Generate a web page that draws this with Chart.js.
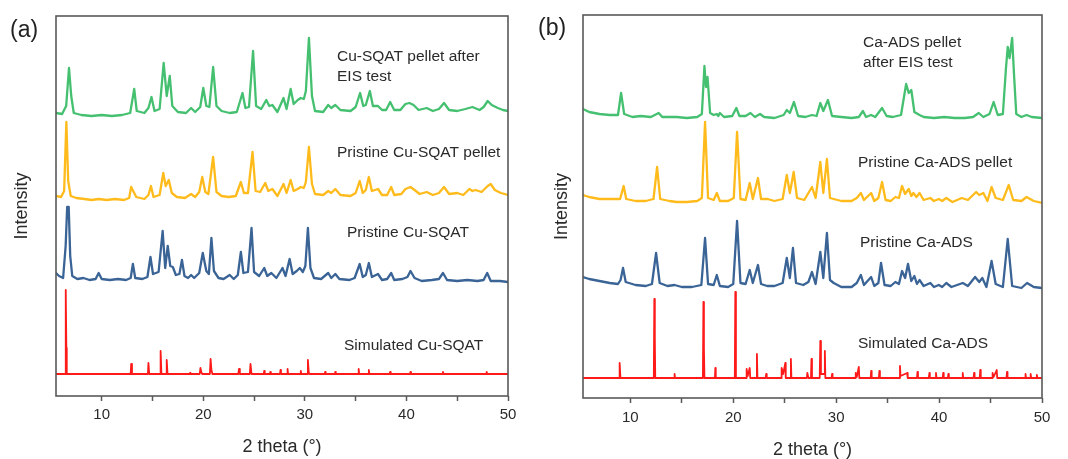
<!DOCTYPE html>
<html>
<head>
<meta charset="utf-8">
<script src="https://cdn.jsdelivr.net/npm/chart.js@4.4.1/dist/chart.umd.min.js"></script>
<style>
  body { margin: 0; background: #fff; }
  #wrap { position: relative; width: 1068px; height: 459px; }
  canvas { position: absolute; top: 0; }
  #chartA { left: 0; }
  #chartB { left: 534px; }
</style>
</head>
<body>
<div id="wrap">
  <canvas id="chartA" width="534" height="459"></canvas>
  <canvas id="chartB" width="534" height="459"></canvas>
</div>
<script>
// x ticks shared by both panels (labels only on multiples of 10)
var tickValues = [10, 15, 20, 25, 30, 35, 40, 45, 50];
var xTitle = '2 theta (\u00b0)';
var yTitle = 'Intensity';

// ---- panel (a) : Cu-SQAT, stacked traces, [2theta, offset intensity] ----
var cuSimulated = [[5.5,22],[6.4,22],[6.46,106],[6.52,48],[6.56,22],
  [12.85,22],[12.9,32],[12.98,22],[14.55,22],[14.6,33],[14.68,22],
  [15.75,22],[15.8,45],[15.88,22],[16.35,22],[16.4,36],[16.48,22],
  [18.65,22],[18.7,23],[18.75,22],[19.65,22],[19.72,28],[19.8,24],[19.9,22],
  [20.65,22],[20.72,37],[20.8,26],[20.9,22],[23.45,22],[23.52,27],[23.6,22],
  [24.58,22],[24.65,32],[24.75,22],[25.95,22],[26.0,25],[26.05,22],
  [26.55,22],[26.6,24],[26.65,22],[27.55,22],[27.6,26],[27.65,22],
  [28.25,22],[28.3,27],[28.35,22],[29.55,22],[29.6,25],[29.65,22],
  [30.22,22],[30.3,36],[30.38,24],[30.45,22],[31.95,22],[32.0,24],[32.05,22],
  [32.95,22],[33.0,24],[33.05,22],[35.25,22],[35.3,27],[35.35,22],
  [36.25,22],[36.3,26],[36.35,22],[38.35,22],[38.4,24],[38.45,22],
  [40.35,22],[40.4,24],[40.45,22],[43.55,22],[43.6,24],[43.65,22],
  [47.85,22],[47.9,24],[47.95,22],[50,22]];

var cuPristine = [[5.5,123],[5.8,120],[6.2,118],[6.45,150],[6.6,189],[6.75,189],[6.9,140],[7.1,120],
  [7.6,117],[8.2,118],[8.8,116],[9.4,117],[9.7,123],[10.0,117],[10.8,116],[11.6,117],[12.4,116],
  [12.85,118],[13.07,132],[13.3,118],[14.0,117],[14.5,119],[14.8,139],[15.05,122],[15.6,124],
  [16.0,165],[16.25,128],[16.5,150],[16.75,130],[17.0,129],[17.3,121],[17.65,122],[17.9,136],
  [18.15,120],[18.5,118],[18.8,121],[19.1,118],[19.6,123],[19.95,143],[20.3,125],[20.55,122],
  [20.8,158],[21.05,125],[21.5,118],[22.0,117],[22.6,121],[23.0,117],[23.4,121],[23.7,144],
  [23.95,123],[24.4,124],[24.75,168],[25.0,124],[25.5,120],[26.0,128],[26.3,120],[26.7,123],
  [27.2,118],[27.8,128],[28.1,120],[28.5,137],[28.8,122],[29.2,125],[29.5,128],[29.8,124],
  [30.05,130],[30.3,168],[30.55,128],[30.9,118],[31.6,117],[32.3,123],[32.6,118],[33.0,122],
  [33.4,117],[34.4,116],[34.9,118],[35.4,132],[35.7,119],[36.0,121],[36.3,133],[36.6,119],
  [37.2,122],[37.6,116],[38.1,117],[38.5,123],[38.8,116],[39.6,117],[40.1,119],[40.4,125],
  [40.8,118],[41.5,115],[42.5,116],[43.2,117],[43.6,123],[44.0,116],[45.0,115],[46.0,116],
  [47.0,115],[47.6,116],[47.95,123],[48.3,115],[49.2,115],[50,114]];

var cuPellet = [[5.5,200],[6.0,199],[6.3,205],[6.52,274],[6.7,215],[6.95,200],[7.5,198],[8.3,197],
  [9.0,196],[9.7,197],[10.5,196],[11.3,197],[12.2,196],[12.7,198],[12.9,209],[13.2,203],[13.4,199],
  [14.2,197],[14.6,201],[14.85,210],[15.1,199],[15.7,201],[16.06,223],[16.3,210],[16.6,216],
  [16.9,203],[17.4,199],[18.2,198],[18.8,202],[19.2,199],[19.6,204],[19.9,219],[20.2,204],
  [20.5,202],[20.97,239],[21.3,204],[21.8,200],[22.5,199],[23.2,200],[23.7,214],[24.0,203],
  [24.4,203],[24.85,244],[25.15,205],[25.6,204],[26.1,213],[26.4,205],[26.8,207],[27.3,200],
  [27.9,212],[28.2,203],[28.6,216],[28.9,205],[29.3,207],[29.6,209],[29.9,208],[30.1,214],
  [30.4,249],[30.7,212],[31.0,202],[31.8,201],[32.3,205],[32.6,203],[33.0,207],[33.5,201],
  [34.5,200],[35.0,203],[35.4,215],[35.7,203],[36.0,206],[36.3,219],[36.6,205],[37.2,207],
  [37.6,201],[38.1,201],[38.5,209],[38.8,201],[39.5,202],[39.9,207],[40.4,209],[40.8,206],
  [41.3,202],[42.0,204],[42.6,201],[43.2,203],[43.7,209],[44.2,202],[45.0,203],[45.6,201],
  [46.2,207],[46.5,205],[46.8,206],[47.4,204],[48.0,210],[48.3,212],[48.7,206],[49.3,203],[50,201]];

var cuAfterEIS = [[5.5,283],[6.1,282],[6.5,290],[6.78,328],[7.0,300],[7.25,283],[8.0,281],[9.0,280],
  [10.0,281],[11.0,280],[12.0,281],[12.8,283],[13.2,307],[13.45,285],[14.2,283],[14.6,288],
  [14.9,299],[15.2,285],[15.7,287],[16.1,333],[16.4,300],[16.7,320],[16.95,290],[17.5,284],
  [18.3,283],[18.8,288],[19.2,284],[19.7,289],[20.0,308],[20.3,290],[20.6,289],[20.97,329],
  [21.3,290],[21.8,285],[22.6,283],[23.3,284],[23.86,303],[24.15,288],[24.5,289],[24.9,345],
  [25.2,290],[25.7,287],[26.2,296],[26.5,290],[26.8,291],[27.3,284],[27.9,298],[28.2,287],
  [28.6,307],[28.9,292],[29.3,296],[29.6,298],[29.9,297],[30.1,305],[30.4,358],[30.7,300],
  [31.0,285],[31.8,284],[32.3,291],[32.6,288],[33.0,291],[33.5,286],[34.5,285],[35.0,289],
  [35.44,303],[35.75,290],[36.0,291],[36.4,305],[36.7,290],[37.2,290],[37.6,286],[38.0,286],
  [38.4,294],[38.8,286],[39.4,286],[39.9,292],[40.3,293],[40.7,291],[41.2,286],[42.0,288],
  [42.6,285],[43.2,287],[43.7,293],[44.2,286],[45.0,285],[45.8,287],[46.5,289],[47.2,286],
  [47.6,289],[48.0,295],[48.4,291],[49.0,288],[49.5,286],[50,285]];

var cuLabels = ['Simulated Cu-SQAT', 'Pristine Cu-SQAT', 'Pristine Cu-SQAT pellet', ['Cu-SQAT pellet after', 'EIS test']];

// ---- panel (b) : Ca-ADS ----
var caSimulated = [[5.4,20],[8.92,20],[8.96,35],[9.04,20],[12.28,20],[12.33,99],[12.38,60],[12.42,20],
  [14.27,20],[14.3,24],[14.34,20],[17.05,20],[17.1,96],[17.15,50],[17.2,20],[18.22,20],[18.26,30],
  [18.3,20],[20.15,20],[20.2,106],[20.26,20],[21.25,20],[21.3,29],[21.4,22],[21.6,30],[21.65,20],
  [22.25,20],[22.3,44],[22.35,20],[23.15,20],[23.2,24],[23.25,20],[24.65,20],[24.7,30],[24.85,24],
  [25.06,35],[25.1,20],[25.55,20],[25.6,39],[25.65,20],[27.15,20],[27.2,25],[27.3,20],[27.55,20],
  [27.6,39],[27.65,20],[28.4,20],[28.46,57],[28.52,24],[28.85,24],[28.9,47],[28.95,20],[29.55,20],
  [29.6,24],[29.65,20],[31.85,20],[31.9,25],[32.0,21],[32.2,31],[32.25,20],[33.35,20],[33.4,27],
  [33.45,20],[34.15,20],[34.2,27],[34.25,20],[36.15,20],[36.2,32],[36.25,22],[36.9,25],[36.95,20],
  [37.85,20],[37.9,26],[37.95,20],[39.0,20],[39.06,25],[39.1,20],[39.65,20],[39.7,25],[39.75,20],
  [40.35,20],[40.4,25],[40.45,20],[40.85,20],[40.9,24],[40.95,20],[42.25,20],[42.3,25],[42.35,20],
  [43.35,20],[43.4,25],[43.45,20],[43.95,20],[44.0,28],[44.05,20],[45.15,20],[45.2,25],[45.3,21],
  [45.6,28],[45.65,20],[46.55,20],[46.6,26],[46.65,20],[48.35,20],[48.4,24],[48.45,20],[48.85,20],
  [48.9,24],[48.95,20],[49.45,20],[49.5,23],[49.55,20],[50,20]];

var caPristine = [[5.4,121],[6.0,119],[7.0,117],[8.0,115],[8.8,114],[9.05,118],[9.29,130],[9.55,116],
  [10.5,113],[11.5,112],[12.1,114],[12.5,145],[12.85,115],[13.6,112],[14.3,113],[15.0,111],[16.0,111],
  [16.9,113],[17.26,160],[17.55,114],[18.1,113],[18.4,123],[18.7,112],[19.5,111],[20.0,114],
  [20.37,177],[20.7,115],[21.2,114],[21.6,128],[21.9,115],[22.4,133],[22.7,114],[23.3,112],
  [24.0,112],[24.8,115],[25.2,140],[25.5,120],[25.8,150],[26.1,115],[26.8,113],[27.3,116],
  [27.65,126],[28.0,114],[28.46,146],[28.75,120],[29.1,165],[29.4,118],[29.76,115],[30.5,111],
  [31.5,111],[32.0,115],[32.4,123],[32.7,113],[33.4,121],[33.7,112],[34.1,115],[34.36,135],
  [34.7,113],[35.3,112],[35.75,116],[36.1,114],[36.4,127],[36.7,120],[36.98,134],[37.3,117],
  [37.6,122],[37.85,114],[38.1,118],[38.5,112],[39.15,115],[39.5,111],[39.97,113],[40.3,111],
  [40.7,115],[41.2,111],[42.3,115],[42.8,112],[43.5,121],[43.9,116],[44.2,120],[44.6,111],
  [45.1,137],[45.5,114],[46.2,111],[46.67,159],[47.1,112],[48.0,110],[48.55,115],[49.2,111],[50,110]];

var caPellet = [[5.4,203],[6.0,201],[7.0,199],[8.2,199],[9.0,199],[9.35,212],[9.6,199],[10.5,197],
  [11.5,197],[12.25,199],[12.6,231],[12.9,199],[13.8,197],[14.5,196],[15.5,196],[16.5,197],
  [16.95,200],[17.26,276],[17.55,200],[18.1,198],[18.4,205],[18.7,197],[19.5,197],[20.05,200],
  [20.37,266],[20.7,199],[21.2,198],[21.6,215],[21.9,199],[22.4,220],[22.7,199],[23.35,199],
  [24.0,197],[24.8,199],[25.2,223],[25.5,205],[25.87,226],[26.2,200],[26.9,198],[27.65,211],
  [28.0,200],[28.46,236],[28.75,205],[29.1,239],[29.4,200],[29.76,199],[30.5,197],[31.5,197],
  [32.0,200],[32.4,205],[32.7,198],[33.4,205],[33.7,197],[34.1,200],[34.46,216],[34.8,198],
  [35.3,197],[35.75,201],[36.1,200],[36.4,212],[36.7,204],[37.05,209],[37.3,202],[37.5,205],
  [37.8,201],[38.1,205],[38.5,198],[39.15,200],[39.5,197],[39.97,199],[40.3,197],[40.7,200],
  [41.3,196],[42.2,200],[42.8,198],[43.6,206],[43.9,203],[44.3,205],[44.7,197],[45.1,211],
  [45.5,200],[46.2,198],[46.77,213],[47.2,198],[48.0,197],[48.5,201],[49.2,197],[50,195]];

var caAfterEIS = [[5.4,289],[6.0,286],[7.0,284],[8.0,283],[8.8,283],[9.1,305],[9.4,284],[10.2,281],
  [11.0,282],[12.0,281],[12.75,285],[13.1,281],[14.5,281],[15.5,280],[16.5,281],[16.95,284],
  [17.2,332],[17.35,311],[17.5,321],[17.75,285],[18.1,283],[18.4,284],[18.55,282],[18.7,285],
  [19.1,281],[19.9,282],[20.3,290],[20.6,282],[21.2,282],[21.67,285],[22.1,281],[22.6,284],
  [23.0,281],[24.0,280],[24.9,283],[25.2,288],[25.5,285],[25.9,296],[26.3,282],[27.0,281],
  [27.65,283],[28.1,282],[28.46,295],[28.75,287],[29.2,298],[29.6,282],[30.5,281],[31.5,280],
  [32.2,281],[32.6,287],[32.9,281],[33.4,283],[33.8,281],[34.46,290],[34.9,282],[35.5,281],
  [36.3,283],[36.8,314],[37.05,305],[37.3,308],[37.6,286],[38.1,283],[38.5,281],[39.5,280],
  [40.5,281],[41.5,280],[42.5,280],[43.3,281],[43.85,285],[44.3,281],[44.9,284],[45.3,296],
  [45.7,283],[46.2,284],[46.5,330],[46.67,351],[46.85,340],[47.1,360],[47.3,320],[47.5,284],
  [48.0,281],[48.5,283],[49.0,281],[50,280]];

var caLabels = ['Simulated Ca-ADS', 'Pristine Ca-ADS', 'Pristine Ca-ADS pellet', ['Ca-ADS pellet', 'after EIS test']];

var colors = ['#ff1a1a', '#3a6396', '#ffbb1c', '#45c070'];
var frameColor = '#595959';
var textColor = '#2a2a2a';
var fontFamily = '"Liberation Sans", Arial, sans-serif';

// frame around plot area + panel letter + trace labels
var decorPlugin = {
    id: 'decor',
    afterDraw: function (chart, args, opts) {
        var ctx = chart.ctx;
        var a = chart.chartArea;
        ctx.save();
        ctx.strokeStyle = frameColor;
        ctx.lineWidth = 1.6;
        ctx.strokeRect(a.left, a.top, a.right - a.left, a.bottom - a.top);

        ctx.fillStyle = '#222';
        ctx.font = '23px ' + fontFamily;
        ctx.textBaseline = 'middle';
        ctx.textAlign = 'left';
        ctx.fillText(opts.letter, opts.letterPos[0], opts.letterPos[1]);

        ctx.fillStyle = textColor;
        ctx.font = '15.5px ' + fontFamily;
        opts.labels.forEach(function (lab, i) {
            var p = opts.labelPos[i];
            var lines = Array.isArray(lab) ? lab : [lab];
            lines.forEach(function (line, j) {
                ctx.fillText(line, p[0], p[1] + j * 20);
            });
        });
        ctx.restore();
    }
};

function makePanel(canvasId, series, cfg) {
    var ctx = document.getElementById(canvasId).getContext('2d');
    return new Chart(ctx, {
        type: 'line',
        data: {
            datasets: series.map(function (s, i) {
                return {
                    data: s,
                    borderColor: colors[i],
                    borderWidth: i === 0 ? 1.8 : 2.3,
                    borderJoinStyle: 'round',
                    borderCapStyle: 'round',
                    pointRadius: 0,
                    tension: 0,
                    fill: false
                };
            })
        },
        options: {
            responsive: false,
            animation: false,
            devicePixelRatio: 1,
            layout: { padding: { top: cfg.top, right: cfg.right, left: 0, bottom: 0 } },
            plugins: {
                legend: { display: false },
                tooltip: { enabled: false },
                decor: {
                    letter: cfg.letter,
                    letterPos: cfg.letterPos,
                    labels: cfg.labels,
                    labelPos: cfg.labelPos
                }
            },
            scales: {
                x: {
                    type: 'linear',
                    min: cfg.xMin,
                    max: 50,
                    afterBuildTicks: function (scale) {
                        scale.ticks = tickValues.map(function (v) { return { value: v }; });
                    },
                    afterFit: function (scale) { scale.height = cfg.xHeight; },
                    border: { display: false },
                    grid: {
                        drawOnChartArea: false,
                        drawTicks: true,
                        tickLength: 5,
                        tickColor: frameColor,
                        tickWidth: 1.5
                    },
                    ticks: {
                        color: textColor,
                        padding: cfg.tickPad,
                        maxRotation: 0,
                        autoSkip: false,
                        font: { family: fontFamily, size: 15 },
                        callback: function (v) { return v % 10 === 0 ? v : ''; }
                    },
                    title: {
                        display: true,
                        text: xTitle,
                        color: textColor,
                        font: { family: fontFamily, size: 18, lineHeight: 1 },
                        padding: { top: 0, bottom: cfg.xTitlePad }
                    }
                },
                y: {
                    min: 0,
                    max: cfg.yMax,
                    afterFit: function (scale) { scale.width = cfg.yWidth; },
                    border: { display: false },
                    grid: { display: false },
                    ticks: { display: false },
                    title: {
                        display: true,
                        text: yTitle,
                        color: textColor,
                        font: { family: fontFamily, size: 18, lineHeight: 1 },
                        padding: { top: cfg.yTitlePad, bottom: 0 }
                    }
                }
            }
        },
        plugins: [decorPlugin]
    });
}

makePanel('chartA', [cuSimulated, cuPristine, cuPellet, cuAfterEIS], {
    xMin: 5.5, yMax: 380, top: 16, right: 26, yWidth: 56, xHeight: 63,
    tickPad: 5, xTitlePad: 3, yTitlePad: 13,
    letter: '(a)', letterPos: [10, 31],
    labels: cuLabels,
    labelPos: [[344, 346], [347, 233], [337, 153], [337, 57]]
});

makePanel('chartB', [caSimulated, caPristine, caPellet, caAfterEIS], {
    xMin: 5.4, yMax: 383, top: 15, right: 26, yWidth: 49, xHeight: 61,
    tickPad: 6, xTitlePad: 0, yTitlePad: 19,
    letter: '(b)', letterPos: [4, 29],
    labels: caLabels,
    labelPos: [[324, 344], [326, 243], [324, 163], [329, 43]]
});
</script>
</body>
</html>
